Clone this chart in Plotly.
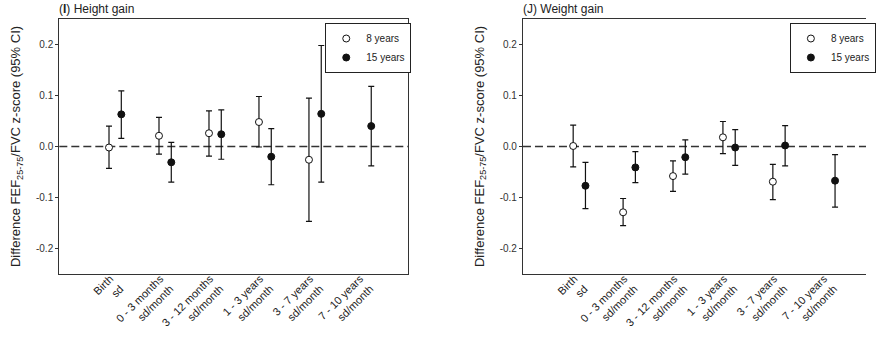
import plotly.graph_objects as go

categories = ["Birth<br>sd", "0 - 3 months<br>sd/month", "3 - 12 months<br>sd/month",
              "1 - 3 years<br>sd/month", "3 - 7 years<br>sd/month", "7 - 10 years<br>sd/month"]
yticks = [-0.2, -0.1, 0.0, 0.1, 0.2]
ytick_labels = ["-0.2", "-0.1", "0.0", "0.1", "0.2"]

# (I) Height gain
h8_est = [-0.002, 0.021, 0.026, 0.048, -0.026, None]
h8_lo = [-0.043, -0.015, -0.019, -0.001, -0.147, None]
h8_hi = [0.040, 0.057, 0.070, 0.098, 0.095, None]
h15_est = [0.063, -0.031, 0.024, -0.020, 0.064, 0.040]
h15_lo = [0.016, -0.070, -0.025, -0.075, -0.070, -0.038]
h15_hi = [0.109, 0.008, 0.072, 0.035, 0.198, 0.118]

# (J) Weight gain
w8_est = [0.001, -0.129, -0.058, 0.018, -0.069, None]
w8_lo = [-0.040, -0.155, -0.088, -0.014, -0.104, None]
w8_hi = [0.042, -0.102, -0.028, 0.049, -0.035, None]
w15_est = [-0.077, -0.041, -0.021, -0.002, 0.002, -0.067]
w15_lo = [-0.122, -0.071, -0.054, -0.037, -0.038, -0.119]
w15_hi = [-0.031, -0.010, 0.013, 0.033, 0.041, -0.016]

OFF = 0.123
idx = list(range(1, len(categories) + 1))
FONT = "Liberation Sans, Arial, sans-serif"
INK = "#111111"

def errs(est, lo, hi):
    up = [None if e is None else h - e for e, h in zip(est, hi)]
    dn = [None if e is None else e - l for e, l in zip(est, lo)]
    return up, dn

fig = go.Figure()

def add_pair(e8, l8, u8, e15, l15, u15, xa, ya, leg):
    up, dn = errs(e8, l8, u8)
    fig.add_trace(go.Scatter(
        x=[i - OFF for i in idx], y=e8, mode="markers", name="8 years",
        xaxis=xa, yaxis=ya, legend=leg,
        marker=dict(symbol="circle", size=7, color="white", line=dict(color=INK, width=1)),
        error_y=dict(type="data", symmetric=False, array=up, arrayminus=dn,
                     color=INK, thickness=1.2, width=3),
    ))
    up, dn = errs(e15, l15, u15)
    fig.add_trace(go.Scatter(
        x=[i + OFF for i in idx], y=e15, mode="markers", name="15 years",
        xaxis=xa, yaxis=ya, legend=leg,
        marker=dict(symbol="circle", size=7, color=INK, line=dict(color=INK, width=1)),
        error_y=dict(type="data", symmetric=False, array=up, arrayminus=dn,
                     color=INK, thickness=1.2, width=3),
    ))

add_pair(h8_est, h8_lo, h8_hi, h15_est, h15_lo, h15_hi, "x", "y", "legend")
add_pair(w8_est, w8_lo, w8_hi, w15_est, w15_lo, w15_hi, "x2", "y2", "legend2")

W, H = 876, 342
ydom = [1 - 274 / H, 1 - 19 / H]
ytitle = "Difference FEF<sub>25-75</sub>/FVC z-score (95% CI)"

xcommon = dict(tickmode="array", tickvals=idx, ticktext=categories, tickangle=-45,
               showline=True, linecolor="#333", linewidth=1.2, mirror=True,
               ticks="", showgrid=False, zeroline=False, ticklabelstandoff=-7,
               ticklabelshift=-5,
               tickfont=dict(family=FONT, size=11, color="#1a1a1a"))
ycommon = dict(range=[-0.25, 0.25], tickmode="array", tickvals=yticks, ticktext=ytick_labels,
               showline=True, linecolor="#333", linewidth=1.2, ticks="outside", ticklen=3,
               tickcolor="#333", showgrid=False, zeroline=False, domain=ydom,
               tickfont=dict(family=FONT, size=10, color="#333"),
               title=dict(text=ytitle, font=dict(family=FONT, size=13, color="#222"), standoff=12))

fig.update_layout(
    width=W, height=H, margin=dict(l=0, r=0, t=0, b=0),
    paper_bgcolor="white", plot_bgcolor="white",
    font=dict(family=FONT, color="#222"),
    xaxis=dict(domain=[60 / W, 413 / W], range=[-0.117, 6.864], anchor="y", **xcommon),
    yaxis=dict(anchor="x", mirror=True, **ycommon),
    xaxis2=dict(domain=[529 / W, 1.0], range=[-0.129, 6.743], anchor="y2", **xcommon),
    yaxis2=dict(anchor="x2", mirror=False, **ycommon),
    legend=dict(x=329 / W, y=1 - 23 / H, xanchor="left", yanchor="top",
                bordercolor="#222", borderwidth=1, bgcolor="white",
                font=dict(family=FONT, size=10, color="#222")),
    legend2=dict(x=799 / W, y=1 - 23 / H, xanchor="left", yanchor="top",
                 bordercolor="#222", borderwidth=1, bgcolor="white",
                 font=dict(family=FONT, size=10, color="#222")),
    showlegend=True,
)

for xr, yr in [("x domain", "y"), ("x2 domain", "y2")]:
    fig.add_shape(type="line", xref=xr, yref=yr, x0=0, x1=1, y0=0, y1=0,
                  line=dict(color="#333", width=1.3, dash="8px,4px"), layer="below")

fig.add_annotation(text="(<b>I</b>) Height gain", xref="paper", yref="paper",
                   x=58 / W, y=1 - 18 / H, xanchor="left", yanchor="bottom", showarrow=False,
                   font=dict(family=FONT, size=12, color="#222"))
fig.add_annotation(text="(J) Weight gain", xref="paper", yref="paper",
                   x=527 / W, y=1 - 18 / H, xanchor="left", yanchor="bottom", showarrow=False,
                   font=dict(family=FONT, size=12, color="#222"))

fig.write_html("out.html")
